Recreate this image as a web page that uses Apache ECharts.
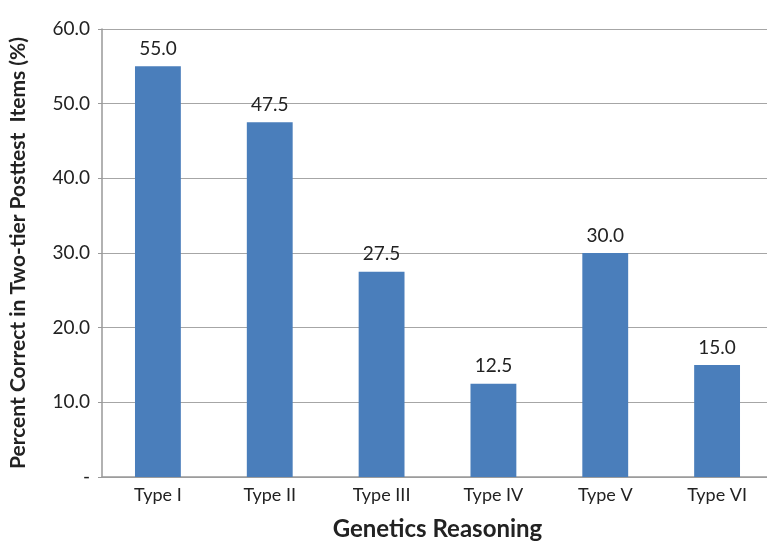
<!DOCTYPE html>
<html><head><meta charset="utf-8">
<script src="https://cdn.jsdelivr.net/npm/echarts@6/dist/echarts.min.js"></script>
<style>html,body{margin:0;padding:0;background:#fff}#c{width:767px;height:542px}</style>
</head><body><div id="c"></div>
<script>
var categories = ["Type I", "Type II", "Type III", "Type IV", "Type V", "Type VI"];
var values = [55.0, 47.5, 27.5, 12.5, 30.0, 15.0];
var yTicks = [0, 10, 20, 30, 40, 50, 60];
var xTitle = "Genetics Reasoning";
var yTitle = "Percent Correct in Two-tier Posttest  Items (%)";

var chart = echarts.init(document.getElementById('c'));
var font = 'Lato, "Open Sans", sans-serif';
chart.setOption({
  animation: false,
  grid: {left: 102, right: -6, top: 29, bottom: 65, containLabel: false, outerBoundsMode: 'none'},
  xAxis: {
    type: 'category', data: categories,
    name: xTitle, nameLocation: 'middle', nameGap: 40,
    nameTextStyle: {fontFamily: font, fontSize: 24, fontWeight: 'bold', color: '#222'},
    axisLine: {lineStyle: {color: '#999', width: 1.5}},
    axisTick: {show: false},
    axisLabel: {fontFamily: font, fontSize: 18, color: '#222', margin: 9}
  },
  yAxis: {
    type: 'value', min: yTicks[0], max: yTicks[yTicks.length - 1], interval: 10,
    name: yTitle, nameLocation: 'middle', nameGap: 73,
    nameTextStyle: {fontFamily: font, fontSize: 21, fontWeight: 'bold', color: '#222'},
    axisLine: {show: true, lineStyle: {color: '#999', width: 1.5}},
    axisTick: {show: true, length: 4, lineStyle: {color: '#999'}},
    splitLine: {lineStyle: {color: '#a6a6a6', width: 1.2}},
    axisLabel: {fontFamily: font, fontSize: 19, color: '#222', margin: 12,
      formatter: function (v) { return v === 0 ? '-' : v.toFixed(1); }}
  },
  series: [{
    type: 'bar', data: values, barWidth: '41%',
    itemStyle: {color: '#4A7EBB'},
    label: {show: true, position: 'top', distance: 8, fontFamily: font, fontSize: 19, color: '#222',
      formatter: function (p) { return p.value.toFixed(1); }}
  }]
});
</script></body></html>
